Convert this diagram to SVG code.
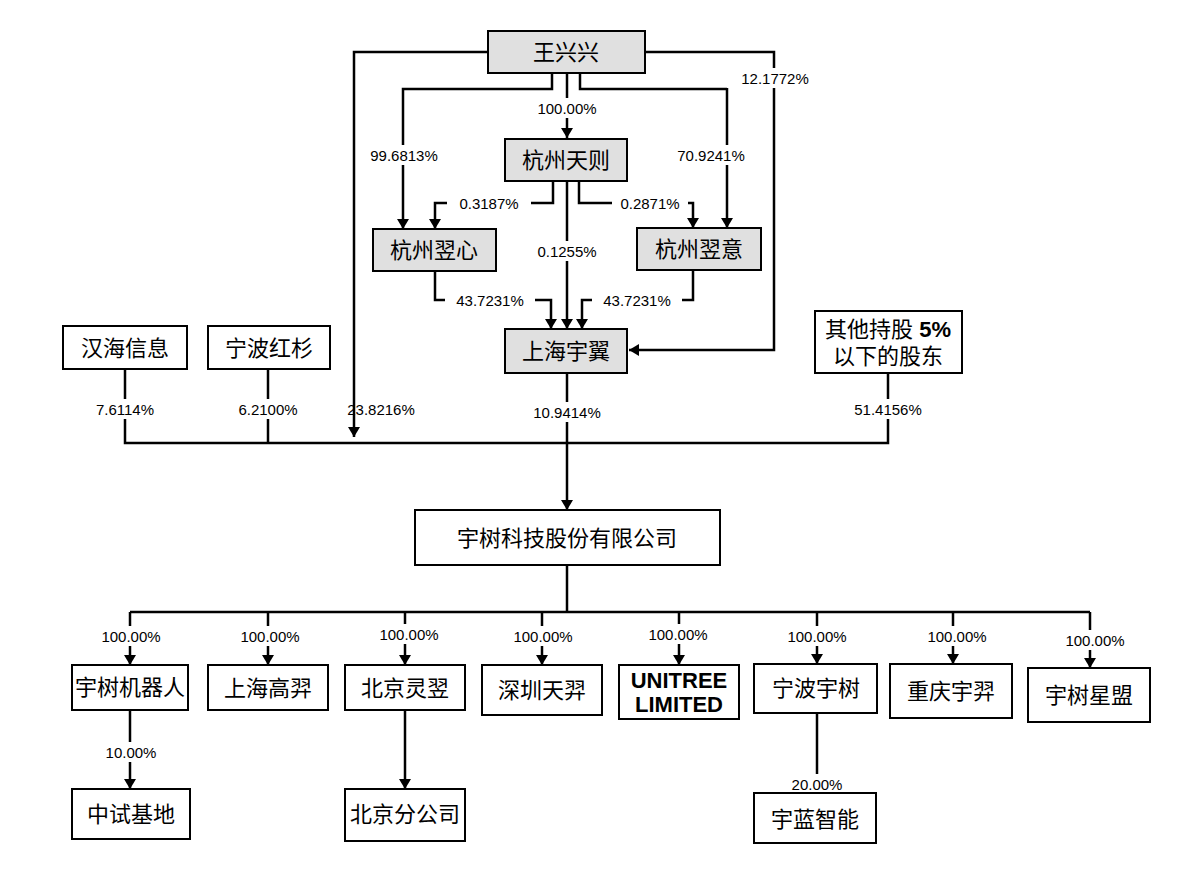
<svg xmlns="http://www.w3.org/2000/svg" width="1194" height="872" viewBox="0 0 1194 872">
<defs>
<marker id="ar" markerWidth="10" markerHeight="12" refX="10" refY="6" orient="auto" markerUnits="userSpaceOnUse"><path d="M0,0 L10,6 L0,12 Z" fill="#000"/></marker>
<style>
.g{fill:#e0e0e0;stroke:#000;stroke-width:2}
.w{fill:#fff;stroke:#000;stroke-width:2}
.n{font-family:"Liberation Sans","Noto Sans CJK SC",sans-serif;font-size:22px;text-anchor:middle;fill:#000}
.p{font-family:"Liberation Sans","Noto Sans CJK SC",sans-serif;font-size:15px;text-anchor:middle;fill:#000}
.pb{fill:#fff}
.c{fill:none;stroke:#000;stroke-width:2.5}
</style>
</defs>
<rect width="1194" height="872" fill="#fff"/>
<g id="connectors">
<polyline class="c" points="488,52 354,52 354,437" marker-end="url(#ar)"/>
<polyline class="c" points="645,52 774,52 774,350 629,350" marker-end="url(#ar)"/>
<polyline class="c" points="552,73 552,89 403,89 403,229" marker-end="url(#ar)"/>
<polyline class="c" points="567,73 567,138" marker-end="url(#ar)"/>
<polyline class="c" points="580,73 580,89 727,89 727,228" marker-end="url(#ar)"/>
<polyline class="c" points="553,182 553,203 435,203 435,229" marker-end="url(#ar)"/>
<polyline class="c" points="567,182 567,329" marker-end="url(#ar)"/>
<polyline class="c" points="579,182 579,203 693,203 693,228" marker-end="url(#ar)"/>
<polyline class="c" points="435,271 435,300 551,300 551,329" marker-end="url(#ar)"/>
<polyline class="c" points="693,270 693,300 582,300 582,329" marker-end="url(#ar)"/>
<polyline class="c" points="125,369 125,443 888,443 888,373"/>
<line class="c" x1="268" y1="369" x2="268" y2="443"/>
<polyline class="c" points="567,373 567,510" marker-end="url(#ar)"/>
<polyline class="c" points="567,565 567,612"/>
<line class="c" x1="130" y1="612" x2="1090" y2="612"/>
<g id="subarrows">
<line class="c" x1="130" y1="612" x2="130" y2="665" marker-end="url(#ar)"/>
<line class="c" x1="268" y1="612" x2="268" y2="665" marker-end="url(#ar)"/>
<line class="c" x1="405" y1="612" x2="405" y2="665" marker-end="url(#ar)"/>
<line class="c" x1="542" y1="612" x2="542" y2="665" marker-end="url(#ar)"/>
<line class="c" x1="679" y1="612" x2="679" y2="665" marker-end="url(#ar)"/>
<line class="c" x1="817" y1="612" x2="817" y2="664" marker-end="url(#ar)"/>
<line class="c" x1="953" y1="612" x2="953" y2="664" marker-end="url(#ar)"/>
<line class="c" x1="1090" y1="612" x2="1090" y2="668" marker-end="url(#ar)"/>
<line class="c" x1="130" y1="710" x2="130" y2="789" marker-end="url(#ar)"/>
<line class="c" x1="405" y1="710" x2="405" y2="789" marker-end="url(#ar)"/>
<line class="c" x1="817" y1="713" x2="817" y2="793" marker-end="url(#ar)" stroke-width="1.5"/>
</g>
</g>
<g id="labels">
<rect class="pb" x="727" y="68" width="96" height="20"/><text class="p" x="775" y="84">12.1772%</text>
<rect class="pb" x="528" y="98" width="78" height="20"/><text class="p" x="567" y="114">100.00%</text>
<rect class="pb" x="364" y="145" width="80" height="20"/><text class="p" x="404" y="161">99.6813%</text>
<rect class="pb" x="668" y="145" width="86" height="20"/><text class="p" x="711" y="161">70.9241%</text>
<rect class="pb" x="447" y="194" width="84" height="19"/><text class="p" x="489" y="209">0.3187%</text>
<rect class="pb" x="612" y="194" width="76" height="19"/><text class="p" x="650" y="209">0.2871%</text>
<rect class="pb" x="530" y="241" width="74" height="20"/><text class="p" x="567" y="257">0.1255%</text>
<rect class="pb" x="445" y="290" width="90" height="20"/><text class="p" x="490" y="306">43.7231%</text>
<rect class="pb" x="592" y="290" width="90" height="20"/><text class="p" x="637" y="306">43.7231%</text>
<rect class="pb" x="85" y="399" width="80" height="20"/><text class="p" x="125" y="415">7.6114%</text>
<rect class="pb" x="228" y="399" width="80" height="20"/><text class="p" x="268" y="415">6.2100%</text>
<text class="p" x="381" y="415">23.8216%</text>
<rect class="pb" x="522" y="402" width="90" height="20"/><text class="p" x="567" y="418">10.9414%</text>
<rect class="pb" x="843" y="399" width="90" height="20"/><text class="p" x="888" y="415">51.4156%</text>
<g id="sublabels">
<rect class="pb" x="96" y="626" width="70" height="20"/><text class="p" x="131" y="642">100.00%</text>
<rect class="pb" x="233" y="626" width="70" height="20"/><text class="p" x="270" y="642">100.00%</text>
<rect class="pb" x="372" y="624" width="70" height="20"/><text class="p" x="409" y="640">100.00%</text>
<rect class="pb" x="507" y="626" width="70" height="20"/><text class="p" x="543" y="642">100.00%</text>
<rect class="pb" x="643" y="624" width="70" height="20"/><text class="p" x="678" y="640">100.00%</text>
<rect class="pb" x="783" y="626" width="70" height="20"/><text class="p" x="817" y="642">100.00%</text>
<rect class="pb" x="922" y="626" width="70" height="20"/><text class="p" x="957" y="642">100.00%</text>
<rect class="pb" x="1060" y="630" width="70" height="20"/><text class="p" x="1095" y="646">100.00%</text>
<rect class="pb" x="101" y="742" width="60" height="20"/><text class="p" x="131" y="758">10.00%</text>
<rect class="pb" x="787" y="774" width="60" height="20"/><text class="p" x="817" y="790">20.00%</text>
</g>
</g>
<g id="n-wangxingxing"><rect class="g" x="488" y="31" width="157" height="42"/><text class="n" x="566" y="60">王兴兴</text></g>
<g id="n-tianze"><rect class="g" x="505" y="139" width="122" height="42"/><text class="n" x="566" y="168">杭州天则</text></g>
<g id="n-yixin"><rect class="g" x="373" y="229" width="123" height="42"/><text class="n" x="434" y="258">杭州翌心</text></g>
<g id="n-yiyi"><rect class="g" x="637" y="228" width="124" height="42"/><text class="n" x="699" y="257">杭州翌意</text></g>
<g id="n-yuyi"><rect class="g" x="505" y="329" width="122" height="44"/><text class="n" x="566" y="359">上海宇翼</text></g>
<g id="n-hanhai"><rect class="w" x="63" y="326" width="124" height="43"/><text class="n" x="125" y="356">汉海信息</text></g>
<g id="n-hongshan"><rect class="w" x="208" y="326" width="122" height="43"/><text class="n" x="269" y="356">宁波红杉</text></g>
<g id="n-others"><rect class="w" x="815" y="311" width="147" height="62"/><text class="n" x="888" y="337" font-size="19">其他持股 <tspan font-weight="bold">5%</tspan></text><text class="n" x="888" y="364" font-size="19">以下的股东</text></g>
<g id="n-unitree"><rect class="w" x="415" y="510" width="305" height="55"/><text class="n" x="567" y="546">宇树科技股份有限公司</text></g>
<g id="n-robot"><rect class="w" x="72" y="665" width="116" height="45"/><text class="n" x="130" y="695" font-size="19">宇树机器人</text></g>
<g id="n-gaoyi"><rect class="w" x="208" y="665" width="120" height="45"/><text class="n" x="268" y="696">上海高羿</text></g>
<g id="n-lingyi"><rect class="w" x="345" y="665" width="120" height="45"/><text class="n" x="405" y="696">北京灵翌</text></g>
<g id="n-shenzhen"><rect class="w" x="482" y="665" width="120" height="50"/><text class="n" x="542" y="698">深圳天羿</text></g>
<g id="n-limited"><rect class="w" x="619" y="665" width="120" height="54"/><text class="n" x="679" y="688" font-size="18" font-weight="bold">UNITREE</text><text class="n" x="679" y="712" font-size="18" font-weight="bold">LIMITED</text></g>
<g id="n-ningbo"><rect class="w" x="754" y="664" width="123" height="49"/><text class="n" x="816" y="696">宁波宇树</text></g>
<g id="n-chongqing"><rect class="w" x="890" y="664" width="122" height="54"/><text class="n" x="951" y="699">重庆宇羿</text></g>
<g id="n-xingmeng"><rect class="w" x="1028" y="668" width="122" height="54"/><text class="n" x="1089" y="703">宇树星盟</text></g>
<g id="n-zhongshi"><rect class="w" x="72" y="789" width="118" height="50"/><text class="n" x="131" y="822">中试基地</text></g>
<g id="n-beijing"><rect class="w" x="345" y="789" width="120" height="52"/><text class="n" x="405" y="822" font-size="19">北京分公司</text></g>
<g id="n-yulan"><rect class="w" x="754" y="793" width="122" height="50"/><text class="n" x="815" y="827">宇蓝智能</text></g>
</svg>
